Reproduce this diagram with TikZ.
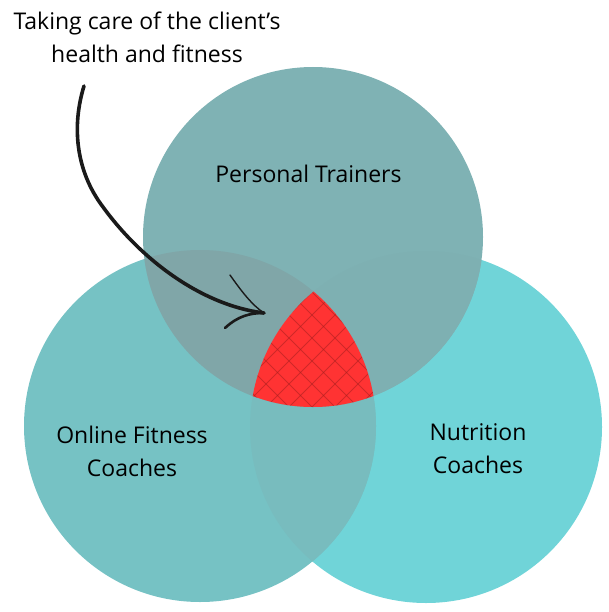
\documentclass[tikz,border=0pt]{standalone}
\usepackage{fontspec}
\setmainfont{Open Sans}
\definecolor{topc}{HTML}{7FB2B4}
\definecolor{leftc}{HTML}{76C2C4}
\definecolor{rightc}{HTML}{70D4D8}
\definecolor{tlc}{HTML}{80A6A8}
\definecolor{trc}{HTML}{7EB0B2}
\definecolor{lrc}{HTML}{78BCBE}
\definecolor{redc}{HTML}{FF3333}
\definecolor{hatchc}{HTML}{A82020}
\definecolor{inkc}{HTML}{1A1A1A}
\begin{document}
\begin{tikzpicture}[x=1pt,y=-1pt,
  lbl/.style={font=\fontsize{23}{33}\selectfont, text=black, align=center, inner sep=0pt, anchor=base},
  hatch/.style={draw=hatchc, line width=0.8pt, opacity=0.55},
  hand/.style={draw=inkc, line cap=round, line join=round}]
\useasboundingbox (0,0) rectangle (609,612);
\coordinate (T) at (313,237);
\coordinate (L) at (200,426);
\coordinate (R) at (426,427);
% base circles
\fill[rightc] (R) circle (176pt);
\fill[leftc] (L) circle (176pt);
\begin{scope}
  \clip (L) circle (176pt);
  \fill[lrc] (R) circle (176pt);
\end{scope}
\fill[topc] (T) circle (170pt);
\begin{scope}
  \clip (T) circle (170pt);
  \fill[trc] (R) circle (176pt);
  \fill[tlc] (L) circle (176pt);
\end{scope}
% triple intersection
\begin{scope}
  \clip (T) circle (170pt);
  \clip (L) circle (176pt);
  \fill[redc] (R) circle (176pt);
  \clip (R) circle (176pt);
  \foreach \k in {-7,...,7} {
    \draw[hatch] ({290+23*\k},270) -- ({440+23*\k},420);
    \draw[hatch] ({334+23*\k},270) -- ({184+23*\k},420);
  }
\end{scope}
% labels (base = baseline of the last line)
\node[lbl] (head) at (147,63) {Taking care of the client’s\\health and fitness};
\node[lbl] (pt) at (308.5,183) {Personal Trainers};
\node[lbl] (ofc) at (132,476) {Online Fitness\\Coaches};
\node[lbl] (nc) at (478,473.5) {Nutrition\\Coaches};
% hand-drawn arrow
\coordinate (astart) at (84,86);
\coordinate (atip) at (264,313);
\draw[hand, line width=3.6pt] (astart) .. controls (72,125) and (75,170) .. (103,207)
   .. controls (140,258) and (200,305) .. (atip);
\draw[hand, line width=1.4pt] (230,275) .. controls (242,292) and (252,305) .. (atip);
\draw[hand, line width=2.6pt] (225,328) .. controls (238,316) and (250,313) .. (atip);
\end{tikzpicture}
\end{document}
